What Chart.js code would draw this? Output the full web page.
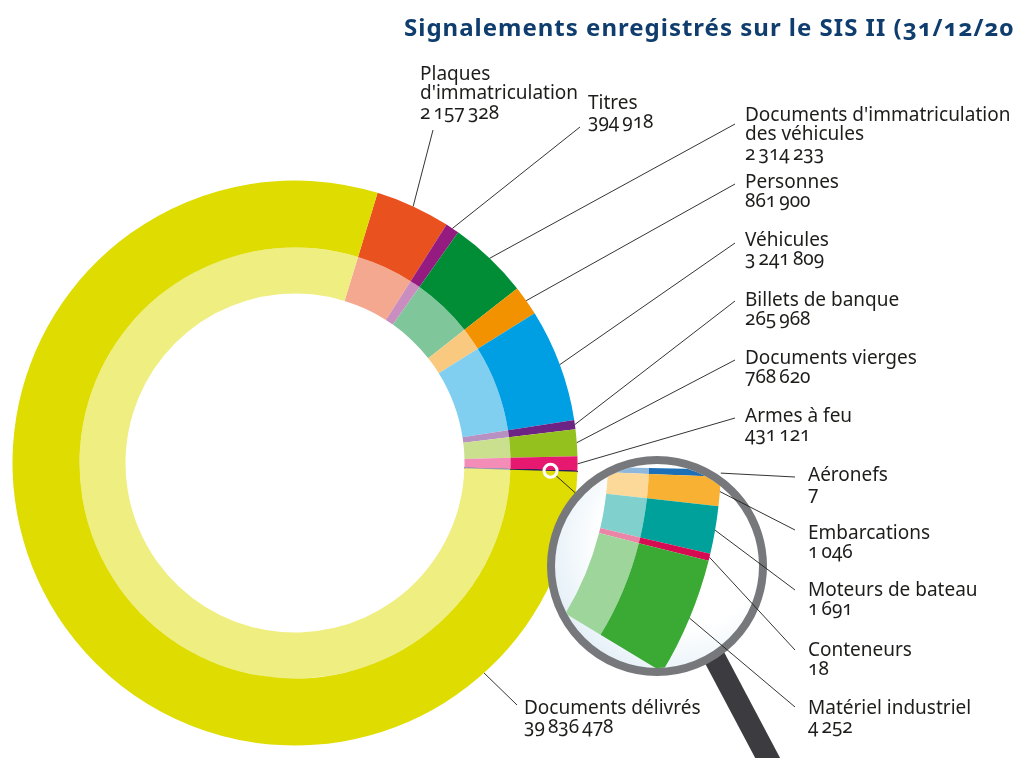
<!DOCTYPE html>
<html lang="fr">
<head>
<meta charset="UTF-8">
<title>Signalements enregistrés sur le SIS II</title>
<script src="https://cdn.jsdelivr.net/npm/chart.js"></script>
<style>
  html, body { margin: 0; padding: 0; background: #fff; }
  body {
    width: 1015px; height: 758px; position: relative; overflow: hidden;
    font-family: "Noto Sans", "Open Sans", sans-serif;
    font-variant-numeric: oldstyle-nums;
    color: #1d1d1b;
  }
  canvas, .layer { position: absolute; }
  #main { left: 0; top: 0; z-index: 0; }
  #handle {
    left: 655px; top: 566px; width: 22px; height: 280px;
    background: #3c3b40; transform-origin: 11px 0; transform: rotate(-27.9deg); z-index: 1;
  }
  #glass {
    left: 549px; top: 458px; width: 216px; height: 216px; border-radius: 50%;
    background: radial-gradient(circle at 62% 40%, #ffffff 0%, #ffffff 45%, #eaf3f9 68%, #cbdae6 100%);
    z-index: 2;
  }
  #lens { left: -95px; top: 53px; z-index: 3; clip-path: circle(102px at 752px 513px); }
  #ring {
    left: 547px; top: 456px; width: 220px; height: 220px; box-sizing: border-box;
    border: 8px solid #76787b; border-radius: 50%; z-index: 4;
  }
  #lines { left: 0; top: 0; z-index: 5; }
  .lbl {
    position: absolute; z-index: 6; white-space: pre; font-size: 19px; line-height: 19.5px;
  }
  #title {
    position: absolute; left: 404px; top: 15px; z-index: 6; white-space: nowrap;
    font-size: 24px; line-height: 24px; font-weight: bold; letter-spacing: 1px; color: #0f3d6e;
  }
</style>
</head>
<body>
<div id="title">Signalements enregistrés sur le SIS II (31/12/2013)</div>
<canvas id="main" width="1015" height="758"></canvas>
<div id="handle" class="layer"></div>
<div id="glass" class="layer"></div>
<canvas id="lens" width="816" height="816"></canvas>
<div id="ring" class="layer"></div>
<svg id="lines" class="layer" width="1015" height="758"></svg>

<script>
// categories in clockwise order, starting after "Documents délivrés"
const categories = [
  "Plaques\nd'immatriculation", "Titres", "Documents d'immatriculation\ndes véhicules",
  "Personnes", "Véhicules", "Billets de banque", "Documents vierges", "Armes à feu",
  "Aéronefs", "Embarcations", "Moteurs de bateau", "Conteneurs", "Matériel industriel",
  "Documents délivrés"
];
const alerts = [
  2157328, 394918, 2314233, 861900, 3241809, 265968, 768620, 431121,
  7, 1046, 1691, 18, 4252, 39836478
];
// the five tiny categories shown in the magnifier
const lensIdx = [8, 9, 10, 11, 12];

const colours = [
  '#e9511f', '#951b81', '#008d36', '#f39200', '#009fe3', '#6c2383', '#95c11f', '#e6186f',
  '#1d70b7', '#f8b133', '#00a19a', '#d70b51', '#3aaa35', '#dedc00'
];

// label layout: [left, first baseline] and where the leader line meets the label
const labelPos = [
  [420, 81], [588, 110], [745, 122], [745, 189], [745, 247], [745, 307], [745, 365], [745, 423],
  [808, 482], [808, 540], [808, 597], [808, 657], [808, 715], [524, 715]
];
const labelAnchor = [
  [433, 130], [580, 127], [735, 124], [735, 184], [735, 243], [735, 301], [735, 360], [735, 418],
  [795, 477], [795, 530], [795, 590], [795, 650], [795, 707], [517, 705]
];

function lighten(hex) {
  const n = parseInt(hex.slice(1), 16);
  const mix = c => Math.round(c + (255 - c) * 0.5);
  return `rgb(${mix(n >> 16)}, ${mix((n >> 8) & 255)}, ${mix(n & 255)})`;
}

const tiny = i => lensIdx.includes(i);

const mainChart = new Chart(document.getElementById('main'), {
  type: 'doughnut',
  data: {
    labels: categories,
    datasets: [{
      data: alerts,
      backgroundColor: colours,
      borderColor: categories.map((c, i) => tiny(i) ? '#29235c' : colours[i]),
      borderWidth: categories.map((c, i) => tiny(i) ? 1 : 0),
      weight: 67
    }, {
      data: alerts,
      backgroundColor: colours.map(lighten),
      borderColor: categories.map((c, i) => tiny(i) ? '#9a97b4' : lighten(colours[i])),
      borderWidth: categories.map((c, i) => tiny(i) ? 1 : 0),
      weight: 46
    }]
  },
  options: {
    responsive: false,
    animation: false,
    events: [],
    rotation: 17,
    cutout: '60%',
    hoverOffset: 0,
    layout: { padding: { left: 12, right: 437, top: 180, bottom: 12 } },
    plugins: { legend: { display: false }, tooltip: { enabled: false } }
  }
});

// magnifier: the tiny slices blown up, smallest ones kept visible
const LENS_MIN = 250;
const LENS_DEG_PER_UNIT = 0.004;
const lensShown = lensIdx.map(i => Math.max(alerts[i], LENS_MIN));
const lensRest = 360 / LENS_DEG_PER_UNIT - lensShown.reduce((a, b) => a + b, 0);
const lensColours = lensIdx.map(i => colours[i]);

const lensChart = new Chart(document.getElementById('lens'), {
  type: 'doughnut',
  data: {
    labels: lensIdx.map(i => categories[i]).concat(''),
    datasets: [{
      data: lensShown.concat(lensRest),
      backgroundColor: lensColours.concat('rgba(0,0,0,0)'),
      borderWidth: 0,
      weight: 72
    }, {
      data: lensShown.concat(lensRest),
      backgroundColor: lensColours.map(lighten).concat('rgba(0,0,0,0)'),
      borderWidth: 0,
      weight: 41
    }]
  },
  options: {
    responsive: false,
    animation: false,
    events: [],
    rotation: 91.2,
    cutout: '72.3%',
    hoverOffset: 0,
    layout: { padding: 0 },
    plugins: { legend: { display: false }, tooltip: { enabled: false } }
  }
});

// labels
categories.forEach((name, i) => {
  const div = document.createElement('div');
  div.className = 'lbl';
  div.textContent = name + '\n' + alerts[i].toLocaleString('fr-FR');
  div.style.left = labelPos[i][0] + 'px';
  div.style.top = (labelPos[i][1] - 17.1) + 'px';
  document.body.appendChild(div);
});

// leader lines
const svg = document.getElementById('lines');
const NS = 'http://www.w3.org/2000/svg';
function line(x1, y1, x2, y2, colour, width) {
  const l = document.createElementNS(NS, 'line');
  l.setAttribute('x1', x1); l.setAttribute('y1', y1);
  l.setAttribute('x2', x2); l.setAttribute('y2', y2);
  l.setAttribute('stroke', colour || '#1d1d1b');
  l.setAttribute('stroke-width', width || 0.9);
  svg.appendChild(l);
}
function edgePoint(arc, angle, r, dx, dy) {
  return [dx + arc.x + Math.cos(angle) * r, dy + arc.y + Math.sin(angle) * r];
}

const mainArcs = mainChart.getDatasetMeta(0).data;
const lensArcs = lensChart.getDatasetMeta(0).data;
const DELIVRES_LEADER_ANGLE = (138 - 90) * Math.PI / 180;

categories.forEach((name, i) => {
  let p;
  if (tiny(i)) {
    const arc = lensArcs[lensIdx.indexOf(i)];
    p = edgePoint(arc, (arc.startAngle + arc.endAngle) / 2, arc.outerRadius, -95, 53);
  } else if (i === categories.length - 1) {
    const arc = mainArcs[i];
    p = edgePoint(arc, DELIVRES_LEADER_ANGLE, arc.outerRadius, 0, 0);
  } else {
    const arc = mainArcs[i];
    p = edgePoint(arc, (arc.startAngle + arc.endAngle) / 2, arc.outerRadius, 0, 0);
  }
  line(p[0], p[1], labelAnchor[i][0], labelAnchor[i][1]);
});

// marker on the ring where the magnifier looks
const mArc = mainArcs[11];
const m = edgePoint(mArc, (mArc.startAngle + mArc.endAngle) / 2, mArc.outerRadius * 0.905, 0, 0);
const lensC = [657, 566];
const d = Math.hypot(m[0] - lensC[0], m[1] - lensC[1]);
const ux = (m[0] - lensC[0]) / d, uy = (m[1] - lensC[1]) / d;
line(m[0] - ux * 7, m[1] - uy * 7, lensC[0] + ux * 110, lensC[1] + uy * 110);
const circ = document.createElementNS(NS, 'circle');
circ.setAttribute('cx', m[0]); circ.setAttribute('cy', m[1]); circ.setAttribute('r', 6.5);
circ.setAttribute('fill', 'none'); circ.setAttribute('stroke', '#fff'); circ.setAttribute('stroke-width', 3);
svg.appendChild(circ);
</script>
</body>
</html>
